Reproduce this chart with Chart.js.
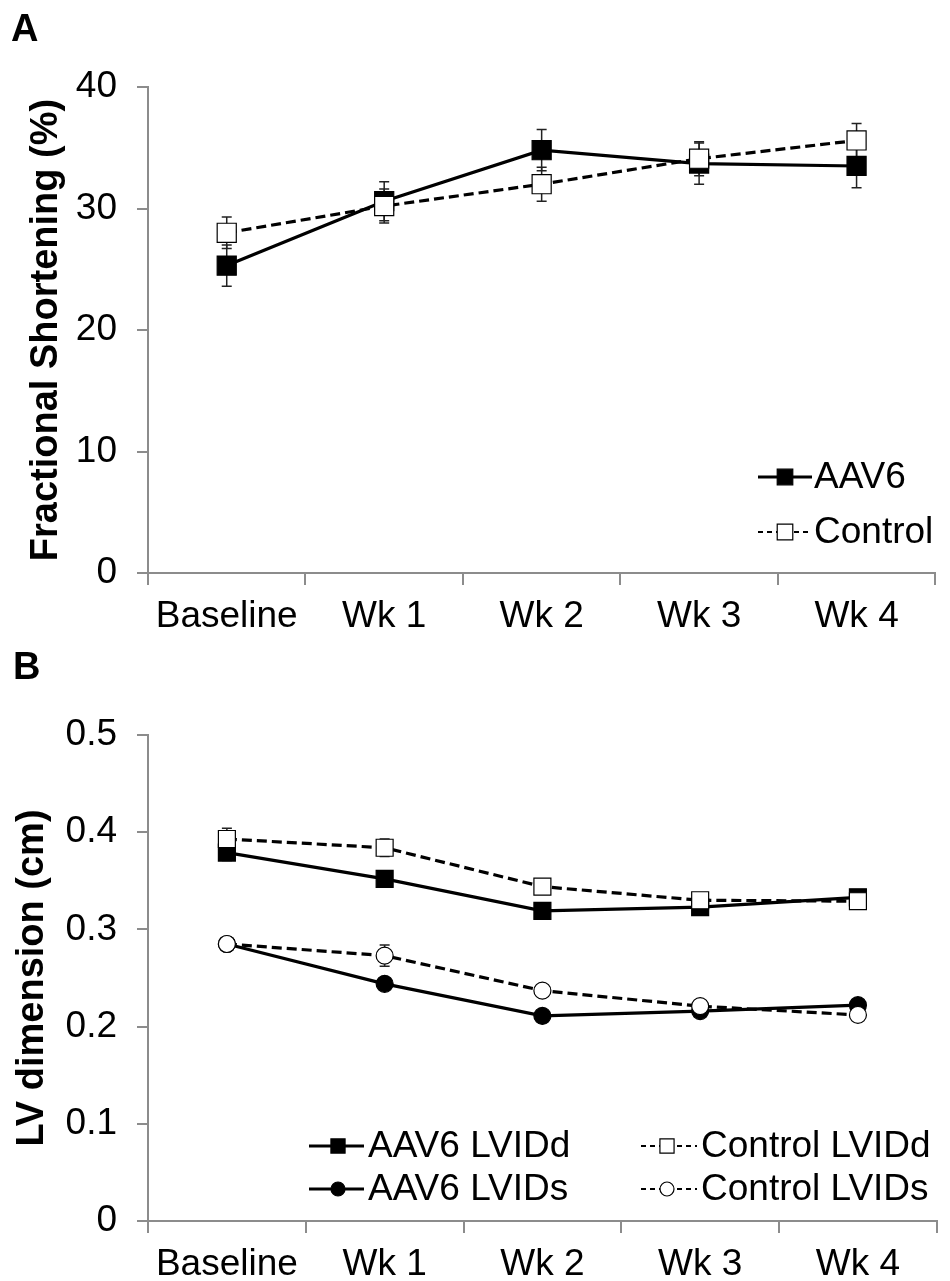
<!DOCTYPE html>
<html>
<head>
<meta charset="utf-8">
<script src="https://cdn.jsdelivr.net/npm/chart.js@4.4.1/dist/chart.umd.min.js"></script>
<style>
  html, body { margin: 0; padding: 0; background: #fff; }
  #wrap { position: relative; width: 950px; height: 1281px; }
  canvas { position: absolute; left: 0; }
  #cA { top: 0; }
  #cB { top: 645px; }
</style>
</head>
<body>
<div id="wrap">
  <canvas id="cA" width="950" height="645"></canvas>
  <canvas id="cB" width="950" height="636"></canvas>
</div>
<script>
// data
const categories = ['Baseline', 'Wk 1', 'Wk 2', 'Wk 3', 'Wk 4'];

const fsAav6 = [25.3, 30.6, 34.8, 33.7, 33.5];
const fsAav6Err = [1.7, 1.6, 1.7, 1.7, 1.8];
const fsControl = [28.0, 30.2, 32.0, 34.1, 35.6];
const fsControlErr = [1.3, 1.4, 1.4, 1.4, 1.4];
const fsTicks = [0, 10, 20, 30, 40];

const aavLVIDd = [0.379, 0.352, 0.319, 0.323, 0.333];
const aavLVIDdErr = [0.008, 0.006, 0.006, 0.005, 0.006];
const ctlLVIDd = [0.393, 0.384, 0.344, 0.330, 0.329];
const ctlLVIDdErr = [0.011, 0.009, 0.007, 0.006, 0.006];
const aavLVIDs = [0.285, 0.244, 0.211, 0.216, 0.222];
const aavLVIDsErr = [0.006, 0.006, 0.005, 0.005, 0.006];
const ctlLVIDs = [0.285, 0.273, 0.237, 0.221, 0.212];
const ctlLVIDsErr = [0.007, 0.011, 0.006, 0.005, 0.006];
const lvTicks = [0, 0.1, 0.2, 0.3, 0.4, 0.5];

Chart.defaults.font.family = "'Liberation Sans', Arial, sans-serif";
Chart.defaults.color = '#000';

const AXIS = '#8c8c8c';

function marker(ctx, style, x, y, r, fill){
  ctx.save();
  ctx.setLineDash([]);
  ctx.fillStyle = fill; ctx.strokeStyle = '#000'; ctx.lineWidth = 1.2;
  ctx.beginPath();
  if (style === 'circle') ctx.arc(x, y, r, 0, Math.PI * 2);
  else { const s = r * Math.SQRT1_2; ctx.rect(x - s, y - s, 2 * s, 2 * s); }
  ctx.fill(); ctx.stroke();
  ctx.restore();
}

// error bars under the lines
const errorBars = {
  id: 'errorBars',
  beforeDatasetsDraw(chart){
    const ctx = chart.ctx, ys = chart.scales.y;
    chart.data.datasets.forEach((ds, i) => {
      if (!ds.errors) return;
      const meta = chart.getDatasetMeta(i);
      ctx.save();
      ctx.strokeStyle = '#222'; ctx.lineWidth = 1.5;
      meta.data.forEach((pt, j) => {
        const v = ds.data[j], e = ds.errors[j];
        const t = ys.getPixelForValue(v + e), b = ys.getPixelForValue(v - e);
        ctx.beginPath();
        ctx.moveTo(pt.x, t); ctx.lineTo(pt.x, b);
        ctx.moveTo(pt.x - 5, t); ctx.lineTo(pt.x + 5, t);
        ctx.moveTo(pt.x - 5, b); ctx.lineTo(pt.x + 5, b);
        ctx.stroke();
      });
      ctx.restore();
    });
  }
};

// legend with line + marker, and panel letter
const lineLegend = {
  id: 'lineLegend',
  afterDraw(chart, args, opts){
    const ctx = chart.ctx;
    ctx.save();
    ctx.font = 'bold 38px ' + Chart.defaults.font.family;
    ctx.fillStyle = '#000'; ctx.textBaseline = 'alphabetic';
    ctx.fillText(opts.letter.text, opts.letter.x, opts.letter.y);
    ctx.font = '37px ' + Chart.defaults.font.family;
    ctx.textBaseline = 'middle';
    (opts.items || []).forEach(it => {
      ctx.save();
      ctx.strokeStyle = '#000';
      ctx.lineWidth = it.dashed ? 2 : 3;
      ctx.setLineDash(it.dashed ? [5, 4] : []);
      ctx.beginPath(); ctx.moveTo(it.x0, it.y); ctx.lineTo(it.x1, it.y); ctx.stroke();
      ctx.restore();
      marker(ctx, it.style, it.mx, it.y, it.r, it.fill);
      ctx.fillText(it.text, it.tx, it.y + 1);
    });
    ctx.restore();
  }
};

function lineSet(label, data, errors, dashed, style, fill, r, order){
  return {
    label, data, errors, order,
    borderColor: '#000', borderWidth: 3.2,
    borderDash: dashed ? [10, 5] : [],
    pointStyle: style, pointRadius: r, pointHoverRadius: r,
    pointBackgroundColor: fill, pointBorderColor: '#000', pointBorderWidth: 1.2,
    tension: 0, fill: false
  };
}

function options(cfg){
  return {
    responsive: false, maintainAspectRatio: false, devicePixelRatio: 1,
    animation: false, events: [],
    layout: { padding: { top: cfg.top, right: 6, left: 0, bottom: 0 } },
    plugins: {
      legend: { display: false }, tooltip: { enabled: false },
      lineLegend: { items: cfg.legend, letter: cfg.letter }
    },
    scales: {
      x: {
        type: 'category', offset: true,
        grid: { offset: true, drawOnChartArea: false, tickLength: 12, color: AXIS, lineWidth: 2 },
        border: { color: AXIS, width: 2 },
        ticks: { font: { size: 37 }, padding: 10, maxRotation: 0, autoSkip: false },
        afterFit: s => { s.height = cfg.xh; }
      },
      y: {
        min: cfg.min, max: cfg.max,
        afterBuildTicks: s => { s.ticks = cfg.ticks.map(v => ({ value: v })); },
        grid: { drawOnChartArea: false, tickLength: 11, color: AXIS, lineWidth: 2 },
        border: { color: AXIS, width: 2 },
        ticks: { font: { size: 37 }, padding: 20, callback: v => String(v) },
        title: { display: true, text: cfg.title, font: { size: 38, weight: 'bold' }, padding: { top: cfg.tpad, bottom: 0 } },
        afterFit: s => { s.width = 148; }
      }
    }
  };
}

new Chart(document.getElementById('cA'), {
  type: 'line',
  data: {
    labels: categories,
    datasets: [
      lineSet('AAV6', fsAav6, fsAav6Err, false, 'rect', '#000', 13.5, 1),
      lineSet('Control', fsControl, fsControlErr, true, 'rect', '#fff', 13.5, 0)
    ]
  },
  options: options({
    top: 87, xh: 72, min: 0, max: 40, ticks: fsTicks, tpad: 24,
    title: 'Fractional Shortening (%)',
    letter: { text: 'A', x: 11, y: 41 },
    legend: [
      { text: 'AAV6', y: 477, x0: 758, x1: 812, mx: 785, tx: 814, style: 'rect', fill: '#000', r: 11, dashed: false },
      { text: 'Control', y: 532, x0: 758, x1: 812, mx: 785, tx: 814, style: 'rect', fill: '#fff', r: 11, dashed: true }
    ]
  }),
  plugins: [errorBars, lineLegend]
});

new Chart(document.getElementById('cB'), {
  type: 'line',
  data: {
    labels: categories,
    datasets: [
      lineSet('AAV6 LVIDd', aavLVIDd, aavLVIDdErr, false, 'rect', '#000', 12, 3),
      lineSet('AAV6 LVIDs', aavLVIDs, aavLVIDsErr, false, 'circle', '#000', 8.5, 2),
      lineSet('Control LVIDd', ctlLVIDd, ctlLVIDdErr, true, 'rect', '#fff', 12, 1),
      lineSet('Control LVIDs', ctlLVIDs, ctlLVIDsErr, true, 'circle', '#fff', 8.5, 0)
    ]
  },
  options: options({
    top: 90, xh: 60, min: 0, max: 0.5, ticks: lvTicks, tpad: 10,
    title: 'LV dimension (cm)',
    letter: { text: 'B', x: 13, y: 34 },
    legend: [
      { text: 'AAV6 LVIDd', y: 501, x0: 309, x1: 364, mx: 338, tx: 368, style: 'rect', fill: '#000', r: 10, dashed: false },
      { text: 'AAV6 LVIDs', y: 544, x0: 309, x1: 364, mx: 338, tx: 368, style: 'circle', fill: '#000', r: 7, dashed: false },
      { text: 'Control LVIDd', y: 501, x0: 641, x1: 697, mx: 667, tx: 701, style: 'rect', fill: '#fff', r: 10, dashed: true },
      { text: 'Control LVIDs', y: 544, x0: 641, x1: 697, mx: 667, tx: 701, style: 'circle', fill: '#fff', r: 7, dashed: true }
    ]
  }),
  plugins: [errorBars, lineLegend]
});
</script>
</body>
</html>
